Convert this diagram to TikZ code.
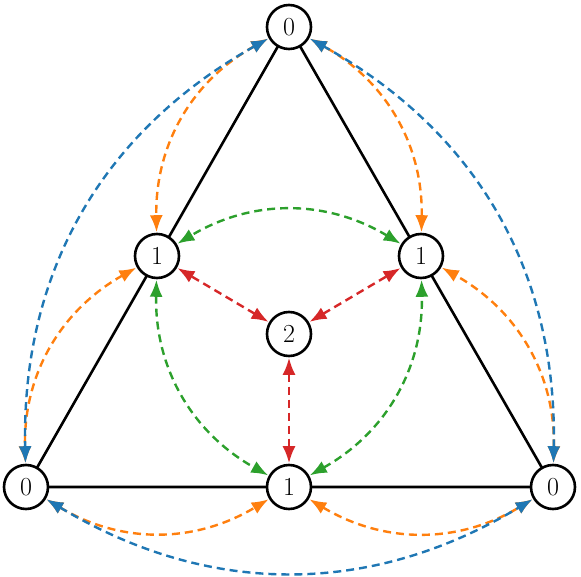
\documentclass[tikz,border=0pt]{standalone}
\usetikzlibrary{arrows.meta}
\definecolor{tabblue}{HTML}{1F77B4}
\definecolor{taborange}{HTML}{FF7F0E}
\definecolor{tabgreen}{HTML}{2CA02C}
\definecolor{tabred}{HTML}{D62728}
\begin{document}
\begin{tikzpicture}[x=1pt,y=1pt,
  vert/.style={circle,draw=black,line width=2.6pt,fill=white,minimum size=44pt,inner sep=0pt,font=\fontsize{26}{31}\selectfont},
  edge/.style={line width=2.6pt,black},
  link/.style={line width=2.4pt,dash pattern=on 8pt off 5pt,{Latex[length=17pt,width=13pt]}-{Latex[length=17pt,width=13pt]}, shorten <=0.5pt, shorten >=0.5pt},
  arc/.style={link,bend right=31}]
\useasboundingbox (0,0) rectangle (581,576);
\coordinate (pT) at (289,549);
\coordinate (pL) at (157,320);
\coordinate (pR) at (421,320);
\coordinate (pBL) at (26,89);
\coordinate (pBR) at (553,89);
\coordinate (pB) at (289,89);
\draw[edge] (pT) -- (pBL) -- (pBR) -- cycle;
\node[vert] (T) at (pT) {0};
\node[vert] (L) at (pL) {1};
\node[vert] (R) at (pR) {1};
\node[vert] (C) at (289,242) {2};
\node[vert] (B) at (pB) {1};
\node[vert] (BL) at (pBL) {0};
\node[vert] (BR) at (pBR) {0};
% orange
\draw[arc,taborange] (T) to (L);
\draw[arc,taborange] (L) to (BL);
\draw[arc,taborange] (BL) to (B);
\draw[arc,taborange] (B) to (BR);
\draw[arc,taborange] (BR) to (R);
\draw[arc,taborange] (R) to (T);
% blue
\draw[arc,tabblue] (T) to (BL);
\draw[arc,tabblue] (BL) to (BR);
\draw[arc,tabblue] (BR) to (T);
% green
\draw[arc,tabgreen] (L) to (B);
\draw[arc,tabgreen] (B) to (R);
\draw[arc,tabgreen] (R) to (L);
% red
\draw[link,tabred] (C) -- (L);
\draw[link,tabred] (C) -- (R);
\draw[link,tabred] (C) -- (B);
\end{tikzpicture}
\end{document}
